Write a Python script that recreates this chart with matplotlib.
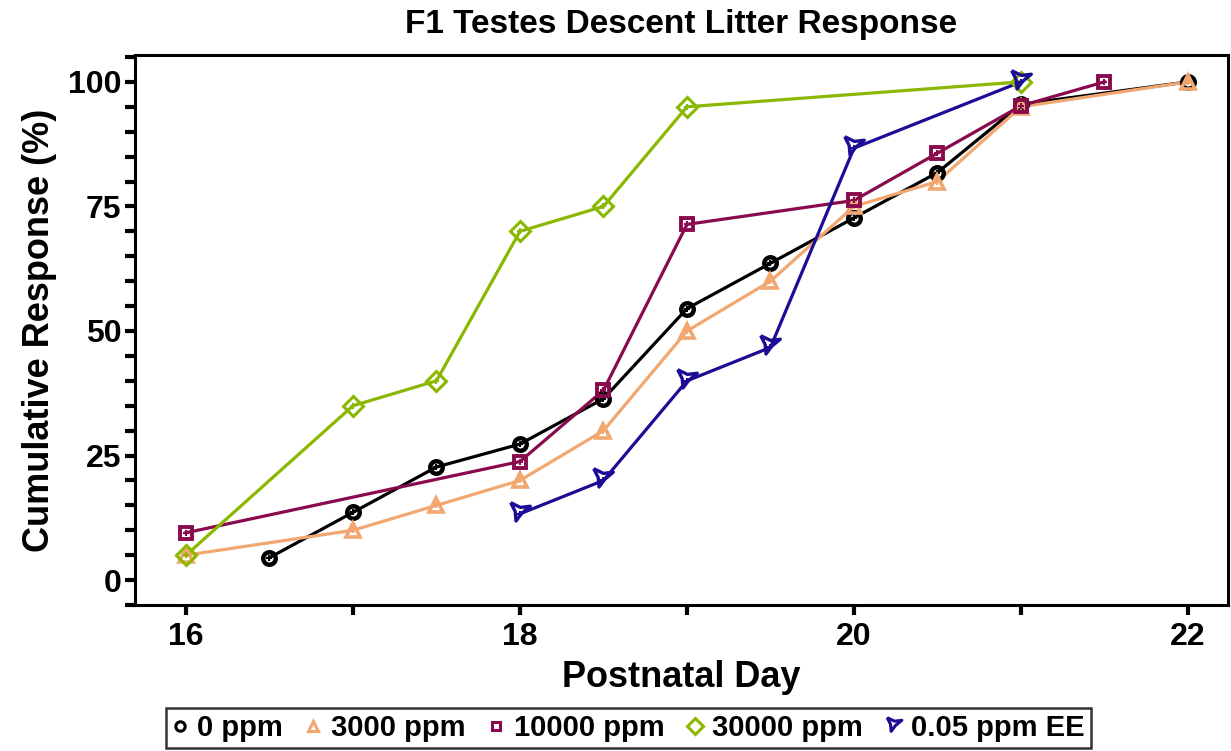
import matplotlib
matplotlib.use("Agg")
import matplotlib.pyplot as plt
from matplotlib.ticker import MultipleLocator

plt.rcParams['font.family'] = ['Liberation Sans', 'DejaVu Sans']
plt.rcParams['font.weight'] = 'bold'

# cumulative response (%) by postnatal day for each dose group
day_0 = [16.5, 17, 17.5, 18, 18.5, 19, 19.5, 20, 20.5, 21, 22]
resp_0 = [4.5, 13.6, 22.7, 27.3, 36.4, 54.5, 63.6, 72.7, 81.8, 95.5, 100]

day_3000 = [16, 17, 17.5, 18, 18.5, 19, 19.5, 20, 20.5, 21, 22]
resp_3000 = [5, 10, 15, 20, 30, 50, 60, 75, 80, 95, 100]

day_10000 = [16, 18, 18.5, 19, 20, 20.5, 21, 21.5]
resp_10000 = [9.5, 23.8, 38.1, 71.4, 76.2, 85.7, 95.2, 100]

day_30000 = [16, 17, 17.5, 18, 18.5, 19, 21]
resp_30000 = [5, 35, 40, 70, 75, 95, 100]

day_ee = [18, 18.5, 19, 19.5, 20, 21]
resp_ee = [13.3, 20, 40, 46.7, 86.7, 100]

# concave arrowhead marker, tip pointing up-left
arrow = [(-0.83, 1.0), (0.0, 0.6), (0.83, 0.7), (0.1, 0.1),
         (-0.38, -0.55), (-0.45, 0.25), (-0.83, 1.0)]

labels = ['0 ppm', '3000 ppm', '10000 ppm', '30000 ppm', '0.05 ppm EE']
colors = ['#000000', '#F2A770', '#8A0A4E', '#8AB800', '#1C0C96']
markers = ['o', '^', 's', 'D', arrow]
msizes = [9, 10.5, 8.5, 10.5, 17]
mews = [3.2, 2.6, 2.8, 2.2, 2.4]
series = [(day_0, resp_0), (day_3000, resp_3000), (day_10000, resp_10000),
          (day_30000, resp_30000), (day_ee, resp_ee)]

fig = plt.figure(figsize=(12.31, 7.51), dpi=100)
ax = fig.add_axes([0.1097, 0.1944, 0.8879, 0.7324])

handles = []
for (x, y), lab, c, m, ms, mw in zip(series, labels, colors, markers, msizes, mews):
    ax.plot(x, y, color=c, lw=2.3, zorder=2)
    ax.plot(x, y, ls='none', marker=m, ms=ms, mfc='none', mec=c, mew=mw, zorder=3)
    ax.plot(x, y, ls='none', marker='+', ms=5, mec=c, mew=1.5, zorder=3)
    h, = ax.plot([], [], ls='none', marker=m, ms=ms * 0.75, mfc='none', mec=c, mew=2.2)
    handles.append(h)

ax.set_xlim(15.695, 22.24)
ax.set_ylim(-5, 105.4)
ax.xaxis.set_major_locator(MultipleLocator(2))
ax.xaxis.set_minor_locator(MultipleLocator(1))
ax.yaxis.set_major_locator(MultipleLocator(25))
ax.yaxis.set_minor_locator(MultipleLocator(5))
ax.tick_params(which='both', direction='out', length=7, width=3, labelsize=23)
ax.tick_params(axis='y', which='major', pad=3)
ax.tick_params(axis='x', which='major', pad=5)
for sp in ax.spines.values():
    sp.set_linewidth(2.2)

ax.set_title('F1 Testes Descent Litter Response', fontsize=24, fontweight='bold', pad=16)
ax.set_xlabel('Postnatal Day', fontsize=26, fontweight='bold', labelpad=6)
ax.set_ylabel('Cumulative Response (%)', fontsize=26, fontweight='bold', labelpad=8)

leg = fig.legend(handles, labels, loc='center', bbox_to_anchor=(0.5106, 0.0306),
                 ncol=5, frameon=True, fancybox=False, fontsize=21,
                 handlelength=0.5, handletextpad=0.35, columnspacing=0.8,
                 borderpad=0.2, borderaxespad=0, edgecolor='black')
leg.get_frame().set_linewidth(1.8)

fig.savefig('out.png', dpi=100)
